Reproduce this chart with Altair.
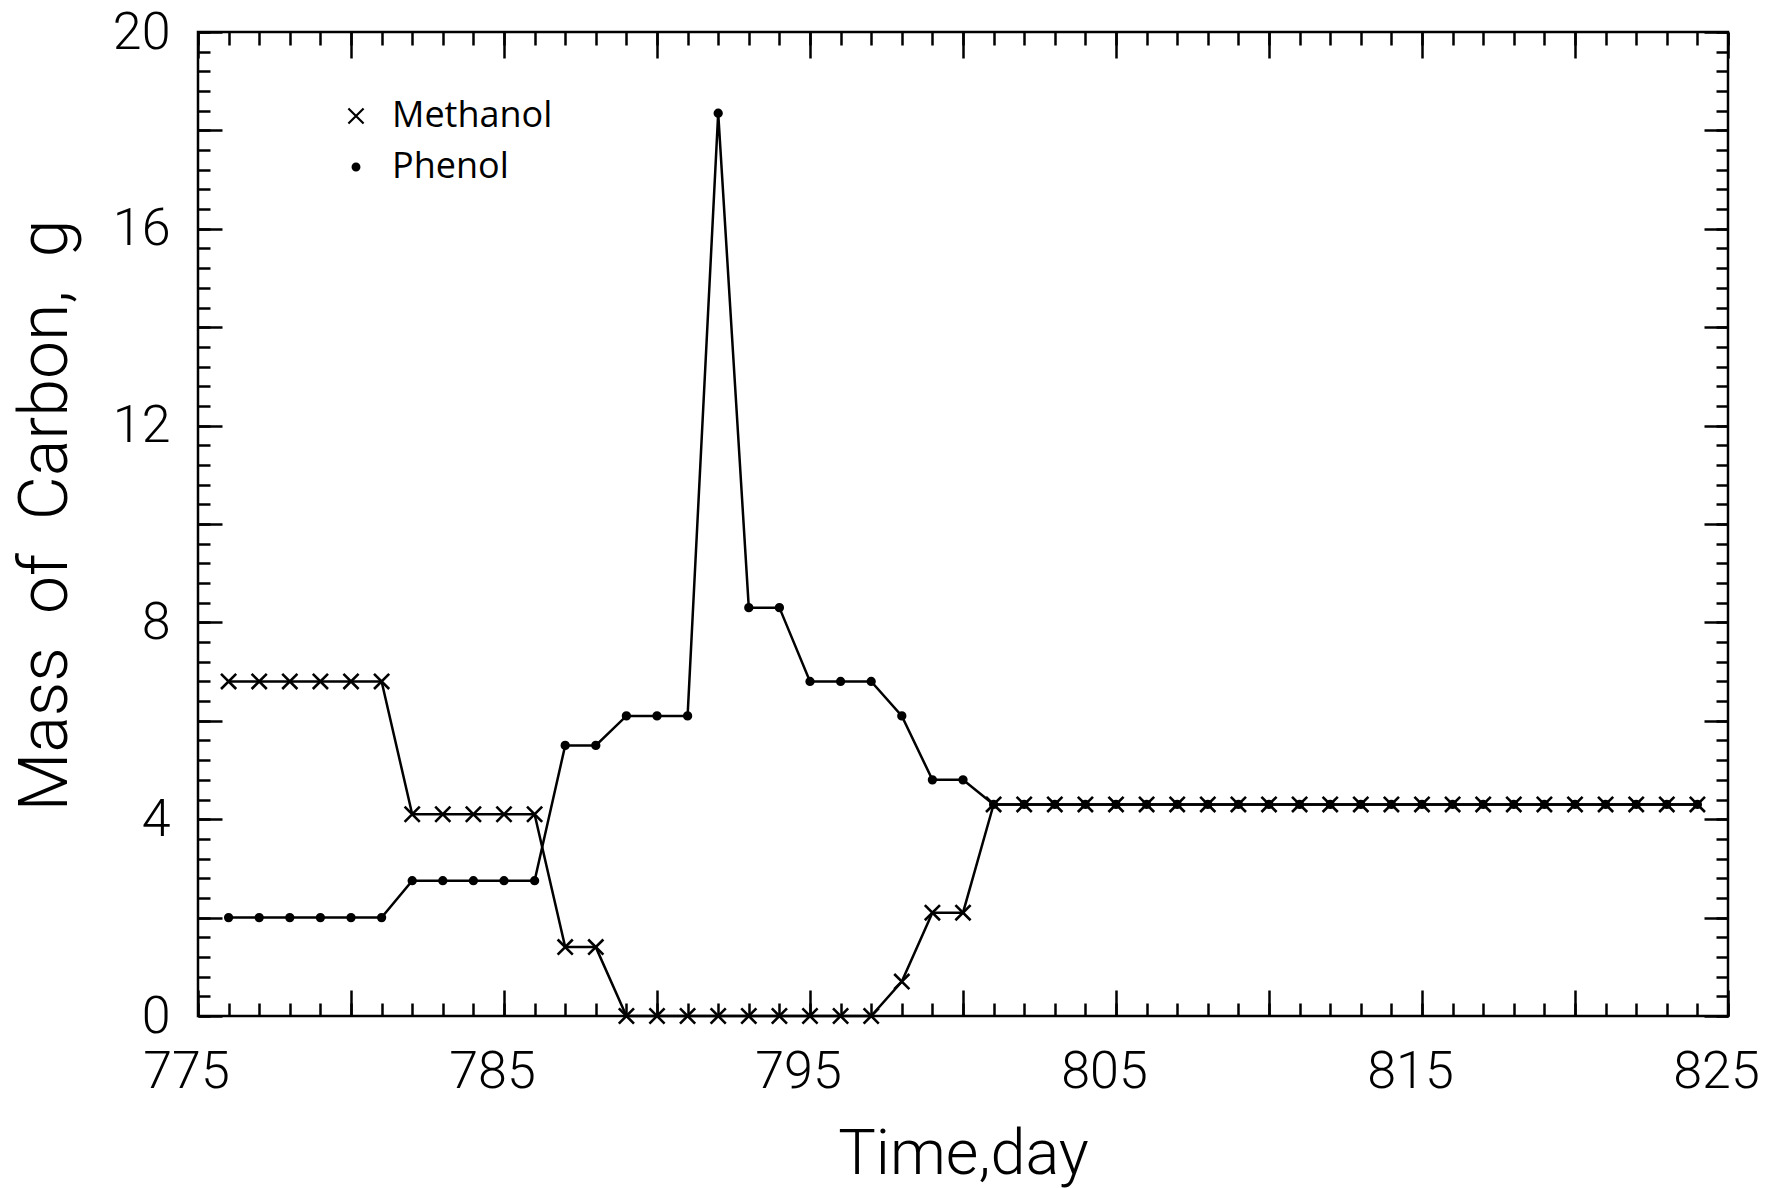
import altair as alt
import pandas as pd

# ---- data ----
days = [776, 777, 778, 779, 780, 781, 782, 783, 784, 785, 786, 787, 788, 789, 790,
        791, 792, 793, 794, 795, 796, 797, 798, 799, 800, 801, 802, 803, 804, 805,
        806, 807, 808, 809, 810, 811, 812, 813, 814, 815, 816, 817, 818, 819, 820,
        821, 822, 823, 824]
methanol = [6.8, 6.8, 6.8, 6.8, 6.8, 6.8, 4.1, 4.1, 4.1, 4.1, 4.1, 1.4, 1.4, 0.0, 0.0,
            0.0, 0.0, 0.0, 0.0, 0.0, 0.0, 0.0, 0.7, 2.1, 2.1, 4.3, 4.3, 4.3, 4.3, 4.3,
            4.3, 4.3, 4.3, 4.3, 4.3, 4.3, 4.3, 4.3, 4.3, 4.3, 4.3, 4.3, 4.3, 4.3, 4.3,
            4.3, 4.3, 4.3, 4.3]
phenol = [2.0, 2.0, 2.0, 2.0, 2.0, 2.0, 2.75, 2.75, 2.75, 2.75, 2.75, 5.5, 5.5, 6.1, 6.1,
          6.1, 18.35, 8.3, 8.3, 6.8, 6.8, 6.8, 6.1, 4.8, 4.8, 4.3, 4.3, 4.3, 4.3, 4.3,
          4.3, 4.3, 4.3, 4.3, 4.3, 4.3, 4.3, 4.3, 4.3, 4.3, 4.3, 4.3, 4.3, 4.3, 4.3,
          4.3, 4.3, 4.3, 4.3]
series_names = ["Methanol", "Phenol"]

x_label_values = [775, 785, 795, 805, 815, 825]
x_major_values = [775, 780, 785, 790, 795, 800, 805, 810, 815, 820, 825]
x_minor_values = list(range(775, 826))
y_label_values = [0, 4, 8, 12, 16, 20]
y_major_values = [0, 2, 4, 6, 8, 10, 12, 14, 16, 18, 20]
y_minor_values = [round(0.4 * i, 1) for i in range(51)]

df = pd.DataFrame({
    "day": days * 2,
    "value": methanol + phenol,
    "compound": ["Methanol"] * len(days) + ["Phenol"] * len(days),
})

W, H = 1530, 984
FONT = "Roboto"

xs = alt.Scale(domain=[775, 825], nice=False, zero=False)
ys = alt.Scale(domain=[0, 20], nice=False, zero=False)


def tick_axis(orient, values, size):
    return alt.Axis(orient=orient, values=values, tickSize=size, offset=-size,
                    labels=False, domain=False, grid=False, title=None,
                    ticks=True, tickColor="black", tickWidth=2.5)


x_lab_axis = alt.Axis(orient="bottom", values=x_label_values, ticks=False, domain=False,
                      grid=False, labelFont=FONT, labelFontWeight=300, labelFontSize=52,
                      labelColor="black", labelPadding=30, labelOffset=-12,
                      labelFlush=False, labelOverlap=False, labelBaseline="top",
                      title="Time,day", titleFont=FONT, titleFontWeight=300,
                      titleFontSize=63, titleColor="black", titleBaseline="alphabetic",
                      titleX=W / 2, titleY=157, titleAlign="center")
y_lab_axis = alt.Axis(orient="left", values=y_label_values, ticks=False, domain=False,
                      grid=False, labelFont=FONT, labelFontWeight=300, labelFontSize=52,
                      labelColor="black", labelPadding=28, labelFlush=False,
                      labelOverlap=False, labelBaseline="middle",
                      title="Mass\u00a0 of\u00a0 Carbon,\u00a0 g", titleFont=FONT,
                      titleFontWeight=300, titleFontSize=68, titleColor="black",
                      titleBaseline="alphabetic", titleAngle=-90, titleX=-132,
                      titleY=H / 2 - 9, titleAlign="center")

legend_def = alt.Legend(orient="none", legendX=140, legendY=66, title=None,
                        labelFont="Open Sans", labelFontSize=36, labelColor="black",
                        labelLimit=600, symbolStrokeColor="black",
                        symbolFillColor="black", symbolStrokeWidth=2.2, rowPadding=15,
                        labelOffset=18, padding=0, symbolOpacity=1)

base = alt.Chart(df)

lines = base.mark_line(color="black", strokeWidth=2.5).encode(
    x=alt.X("day:Q", scale=xs, axis=x_lab_axis),
    y=alt.Y("value:Q", scale=ys, axis=y_lab_axis),
    detail="compound:N",
)

points = base.mark_point(filled=False, fill="black", strokeWidth=2.6,
                         opacity=1).encode(
    x=alt.X("day:Q", scale=xs, axis=tick_axis("bottom", x_minor_values, 13)),
    y=alt.Y("value:Q", scale=ys, axis=tick_axis("left", y_minor_values, 12)),
    color=alt.Color("compound:N",
                    scale=alt.Scale(domain=series_names, range=["black", "black"]),
                    legend=legend_def),
    shape=alt.Shape("compound:N",
                    scale=alt.Scale(domain=series_names,
                                    range=["M-1,-1L1,1M-1,1L1,-1", "circle"]),
                    legend=legend_def),
    size=alt.Size("compound:N",
                  scale=alt.Scale(domain=series_names, range=[230, 45]),
                  legend=legend_def),
)


def ghost(xaxis, yaxis):
    return base.mark_line(strokeOpacity=0).encode(
        x=alt.X("day:Q", scale=xs, axis=xaxis),
        y=alt.Y("value:Q", scale=ys, axis=yaxis),
        detail="compound:N",
    )


g1 = ghost(tick_axis("bottom", x_major_values, 26), tick_axis("left", y_major_values, 24))
g2 = ghost(tick_axis("top", x_minor_values, 13), tick_axis("right", y_minor_values, 12))
g3 = ghost(tick_axis("top", x_major_values, 26), tick_axis("right", y_major_values, 24))

chart = alt.layer(lines, points, g1, g2, g3).resolve_axis(
    x="independent", y="independent"
).properties(
    width=W, height=H, autosize="none",
    padding={"left": 198, "top": 32, "right": 46, "bottom": 172},
    background="white",
).configure_view(stroke="black", strokeWidth=2.5)

chart.save("out.html", embed_options={"renderer": "svg", "actions": False})
